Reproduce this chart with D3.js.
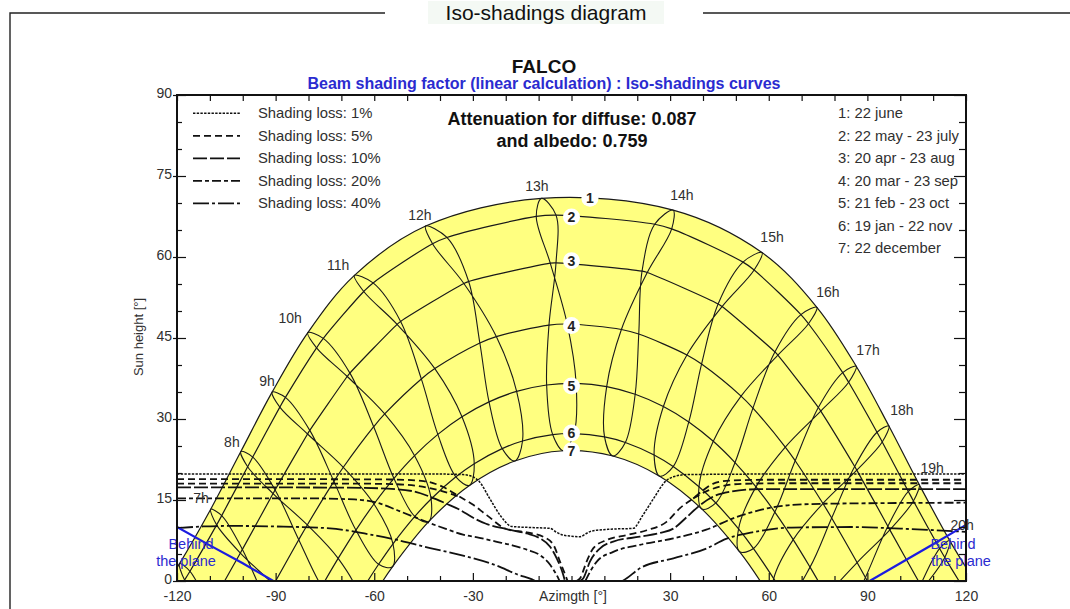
<!DOCTYPE html>
<html>
<head>
<meta charset="utf-8">
<script src="https://cdn.jsdelivr.net/npm/d3@7/dist/d3.min.js"></script>
<style>
  html,body{margin:0;padding:0;background:#fff;}
  svg{display:block;}
  text{font-family:"Liberation Sans",Arial,sans-serif;}
</style>
</head>
<body>
<svg id="chart" width="1070" height="609"></svg>
<script>
// ================= DATA (read / estimated from the picture) =================
// Sun position [azimuth, height] at legal hours 6h..20h for each date
const hours = [6,7,8,9,10,11,12,13,14,15,16,17,18,19,20];
const jun22 = [[-119.23,3.21],[-109.75,13.29],[-100.58,23.97],[-91.07,34.97],[-80.20,46.00],[-66.03,56.60],[-44.36,65.74],[-9.12,70.85],[30.92,68.68],[57.93,60.83],[74.64,50.69],[86.61,39.77],[96.55,28.71],[105.77,17.86],[115.05,7.48]];
const may22 = [[-116.05,1.80],[-106.40,12.11],[-96.96,22.95],[-87.02,34.00],[-75.50,44.93],[-60.35,55.20],[-37.90,63.62],[-4.71,67.75],[30.48,65.21],[55.55,57.58],[72.09,47.64],[84.31,36.80],[94.52,25.74],[104.01,14.82],[113.55,4.34]];
const jul23 = [[-117.69,0.18],[-107.94,10.39],[-98.51,21.16],[-88.72,32.20],[-77.55,43.18],[-63.19,53.61],[-42.27,62.46],[-10.72,67.51],[25.30,66.06],[52.17,59.05],[69.78,49.34],[82.50,38.60],[92.93,27.55],[102.47,16.58],[111.96,6.01]];
const apr20 = [[-110.23,-4.83],[-100.11,5.85],[-90.16,16.87],[-79.61,27.89],[-67.40,38.50],[-51.98,48.07],[-31.28,55.46],[-4.71,58.92],[23.05,57.13],[45.81,50.82],[62.77,41.82],[75.82,31.47],[86.78,20.53],[96.83,9.47],[106.82,-1.35]];
const aug23 = [[-110.87,-5.46],[-100.72,5.18],[-90.78,16.19],[-80.29,27.22],[-68.22,37.87],[-53.05,47.53],[-32.74,55.10],[-6.46,58.86],[21.46,57.39],[44.60,51.31],[61.86,42.42],[75.08,32.13],[86.14,21.21],[96.23,10.15],[106.19,-0.70]];
const mar20 = [[-103.52,-14.36],[-93.13,-3.42],[-82.97,7.64],[-72.27,18.45],[-60.17,28.57],[-45.68,37.42],[-27.88,44.07],[-6.85,47.40],[15.18,46.58],[35.11,41.86],[51.58,34.24],[65.03,24.81],[76.48,14.36],[86.87,3.42],[97.03,-7.64]];
const sep23 = [[-100.86,-11.66],[-90.59,-0.65],[-80.37,10.38],[-69.41,21.06],[-56.82,30.94],[-41.57,39.33],[-22.87,45.26],[-1.30,47.59],[20.46,45.74],[39.56,40.17],[55.19,32.01],[68.04,22.27],[79.14,11.66],[89.41,0.65],[99.63,-10.38]];
const feb21 = [[-96.14,-23.00],[-85.93,-11.94],[-75.98,-1.02],[-65.58,9.43],[-54.00,19.00],[-40.66,27.15],[-25.09,33.17],[-7.56,36.30],[10.70,36.00],[27.95,32.31],[43.13,25.87],[56.12,17.43],[67.44,7.67],[77.72,-2.89],[87.66,-13.86]];
const oct23 = [[-91.05,-17.59],[-81.07,-6.55],[-70.98,4.18],[-60.09,14.26],[-47.73,23.21],[-33.31,30.41],[-16.69,35.11],[1.41,36.59],[19.37,34.58],[35.68,29.45],[49.74,21.93],[61.85,12.77],[72.56,2.57],[82.59,-8.23],[92.62,-19.29]];
const jan19 = [[-87.69,-28.40],[-78.13,-17.43],[-68.66,-6.82],[-58.67,3.10],[-47.65,11.96],[-35.17,19.29],[-21.09,24.52],[-5.72,27.10],[10.05,26.68],[25.13,23.33],[38.78,17.45],[50.82,9.65],[61.51,0.45],[71.30,-9.69],[80.72,-20.43]];
const nov22 = [[-83.70,-23.87],[-74.26,-13.01],[-64.65,-2.65],[-54.30,6.89],[-42.71,15.19],[-29.58,21.73],[-14.90,25.93],[0.77,27.30],[16.38,25.65],[30.93,21.19],[43.91,14.45],[55.36,6.01],[65.62,-3.62],[75.18,-14.05],[84.64,-24.94]];
const dec22 = [[-82.91,-28.07],[-73.70,-17.24],[-64.40,-6.90],[-54.47,2.63],[-43.45,10.98],[-31.05,17.70],[-17.22,22.23],[-2.39,24.12],[12.59,23.14],[26.81,19.40],[39.68,13.32],[51.10,5.43],[61.34,-3.78],[70.79,-13.89],[79.96,-24.60]];

// order in which an hour line visits the dates (figure-8)
const loopOrder = [jun22, may22, apr20, mar20, feb21, jan19, dec22, nov22, oct23, sep23, aug23, jul23];
// dates lying on each numbered sun path
const curveMembers = [[jun22],[may22,jul23],[apr20,aug23],[mar20,sep23],[feb21,oct23],[jan19,nov22],[dec22]];
// azimuth where each sun path meets the horizon
const horizonAz = [122.59,117.88,105.53,90.0,75.03,61.98,57.41];

const curveNames = ["1","2","3","4","5","6","7"];
const curveLabelAz = [5.6,0,0,0,0,0,0];
const curveLabelH = [70.9,67.4,59.3,47.3,36.1,27.4,24.1];
const dateLegend = ["1: 22 june","2: 22 may - 23 july","3: 20 apr - 23 aug","4: 20 mar - 23 sep","5: 21 feb - 23 oct","6: 19 jan - 22 nov","7: 22 december"];

const hourLabels = ["7h","8h","9h","10h","11h","12h","13h","14h","15h","16h","17h","18h","19h","20h"];
const hourLabelAz = [-112.7,-103.3,-92.6,-85.6,-71.0,-46.1,-10.5,33.6,61.0,78.0,90.2,100.5,109.7,118.8];
const hourLabelH  = [15.4,25.7,37.0,48.7,58.5,67.8,73.1,71.5,63.7,53.5,42.8,31.7,20.9,10.4];

// iso-shading curves [azimuth, height]
const isoLevels = ["Shading loss: 1%","Shading loss: 5%","Shading loss: 10%","Shading loss: 20%","Shading loss: 40%"];
const iso1 = [[-120,19.8],[-60,19.8],[-40,19.8],[-33,19.7],[-30,19.3],[-28,18.4],[-25,15.4],[-21.5,12.0],[-18.2,10.1],[-12,9.9],[-6.5,9.75],[-4.5,9.0],[-2.5,8.5],[0,8.3],[2.6,8.2],[4.5,8.8],[6.1,9.25],[12,9.6],[18.8,9.75],[21.5,12.0],[25,15.3],[28.5,18.4],[31,19.3],[35,19.7],[60,19.8],[120,19.8]];
const iso5aL = [[-120,18.85],[-80,18.85],[-55,18.8],[-45,18.5],[-39,17.4],[-34,15.6],[-29.9,14.1],[-25.8,12.2],[-19.7,9.6],[-13.6,9.0],[-8.6,8.2],[-5.5,6.7],[-3.5,3.6],[-1.5,0.5],[-1.2,0]];
const iso5aR = [[1.5,0],[2.6,0.5],[4.6,3.6],[6.6,6.05],[10.7,7.6],[16.8,8.5],[22.9,9.4],[29,11.0],[33,13.5],[37,15.3],[40,16.8],[43,18.0],[48,18.6],[60,18.75],[120,18.75]];
const iso5bL = [[-120,18.05],[-70,18.05],[-55,17.95],[-47,17.6],[-41,16.9],[-37,16.2],[-34,15.6]];
const iso5bR = [[37,15.3],[41,16.6],[46,17.6],[52,18.0],[65,18.1],[120,18.1]];
const iso10L = [[-120,17.35],[-70,17.3],[-56,17.1],[-48,16.6],[-43,15.6],[-38,14.3],[-34,13.2],[-29.9,11.7],[-26,10.6],[-19.7,9.6],[-13.6,8.8],[-9.6,7.9],[-6.5,6.35],[-4.5,4.2],[-2.5,1.1],[-2.0,0]];
const iso10R = [[2.5,0],[3.6,0.5],[5.6,3.6],[8.7,6.05],[12.7,7.3],[20.8,8.2],[27,8.9],[31,9.7],[35,11.8],[39,14.0],[43,15.6],[48,16.5],[57,17.0],[80,17.0],[120,17.0]];
const iso20L = [[-120,15.3],[-80,15.3],[-66,15.1],[-58,14.3],[-53,13.1],[-48,11.9],[-43,10.7],[-38,9.6],[-33,8.6],[-28,8.0],[-23,7.3],[-18,6.6],[-13.6,5.8],[-9.6,4.8],[-6.5,3.0],[-4,0.5],[-3.6,0]];
const iso20R = [[4.2,0],[4.6,0.5],[7.7,3.6],[12.7,5.4],[20.8,6.7],[31,7.9],[41,9.5],[50,11.8],[60,13.5],[70,14.2],[90,14.4],[120,14.5]];
const iso40L = [[-120,9.8],[-112,10.1],[-104,10.2],[-90,10.1],[-73.5,9.75],[-63,8.8],[-53,7.6],[-43,6.1],[-33,4.7],[-23,2.9],[-16,1.1],[-12,0.3],[-11,0]];
const iso40R = [[15.5,0],[16.8,0.5],[20.8,2.35],[31,4.2],[41,6.0],[47,7.8],[55,9.0],[67,9.9],[85,10.0],[100,9.7],[120,9.1]];
const isoGroups = [[iso1],[iso5aL,iso5aR,iso5bL,iso5bR],[iso10L,iso10R],[iso20L,iso20R],[iso40L,iso40R]];

// "behind the plane" limits
const behindLeft  = [[-120,10.0],[-110,6.6],[-100,3.3],[-90.7,0]];
const behindRight = [[90.7,0],[100,3.3],[110,6.8],[120,10.4]];

// axes
const xTickLabels = [-120,-90,-60,-30,30,60,90,120];
const xMinorTicks = [-110,-100,-80,-70,-50,-40,-20,-10,0,10,20,40,50,70,80,100,110];
const yTickLabels = [0,15,30,45,60,75,90];
const yMinorTicks = [5,10,20,25,35,40,50,55,65,70,80,85];

// ================= STYLES =================
const isoDash = ["2.4,1.3","7,4","14,3","9,3,4,3","16,3,3,3"];
const isoWidth = [1.5,1.8,1.8,1.8,1.8];
const BLUE = "#2b2bd0";
const TXT = "#303030";

// ================= DRAWING =================
const svg = d3.select("#chart");
const x = d3.scaleLinear().domain([-120,120]).range([177,966]);
const y = d3.scaleLinear().domain([0,90]).range([581,95]);

svg.append("rect").attr("width",1070).attr("height",609).attr("fill","#fff");

// outer frame (fieldset style)
svg.append("path").attr("d","M10,609 V13 H385 M703,13 H1070")
  .attr("fill","none").attr("stroke","#222").attr("stroke-width",1.4);
svg.append("rect").attr("x",428).attr("y",1).attr("width",236).attr("height",23).attr("fill","#f4f9f4");
svg.append("text").attr("x",546).attr("y",20).attr("text-anchor","middle")
  .attr("font-size",21).attr("fill","#111").text("Iso-shadings diagram");

svg.append("text").attr("x",544).attr("y",73).attr("text-anchor","middle")
  .attr("font-size",19).attr("font-weight","bold").attr("fill","#111").text("FALCO");
svg.append("text").attr("x",544).attr("y",89).attr("text-anchor","middle")
  .attr("font-size",16).attr("font-weight","bold").attr("fill",BLUE)
  .text("Beam shading factor (linear calculation) : Iso-shadings curves");

// clip
svg.append("defs").append("clipPath").attr("id","plotclip")
  .append("rect").attr("x",x(-120)).attr("y",y(90)).attr("width",x(120)-x(-120)).attr("height",y(0)-y(90));

const lineOpen = d3.line().x(d=>x(d[0])).y(d=>y(d[1])).curve(d3.curveCatmullRom.alpha(0.5));
const lineLoop = d3.line().x(d=>x(d[0])).y(d=>y(d[1])).curve(d3.curveCatmullRomClosed.alpha(0.5));
const lineIso  = d3.line().x(d=>x(d[0])).y(d=>y(d[1])).curve(d3.curveMonotoneX);
const lineStraight = d3.line().x(d=>x(d[0])).y(d=>y(d[1]));

function datePath(i){
  const pts = [];
  curveMembers[i].forEach(arr => arr.forEach(p => { if (p[1] >= 0) pts.push(p); }));
  pts.push([-horizonAz[i],0],[horizonAz[i],0]);
  return d3.sort(pts, p => p[0]);
}
const datePaths = curveMembers.map((_,i)=>datePath(i));

const plot = svg.append("g").attr("clip-path","url(#plotclip)");

// yellow band between path 1 and path 7
const c1 = datePaths[0], c7 = datePaths[6].slice().reverse();
plot.append("path")
  .attr("d", lineOpen(c1) + lineOpen(c7).replace(/^M/,"L") + "Z")
  .attr("fill","#ffff80").attr("stroke","none");

// behind the plane text (under the lines)
const bt = svg.append("g").attr("font-size",14.5).attr("fill",BLUE).attr("text-anchor","middle");
bt.append("text").attr("x",191).attr("y",549).text("Behind");
bt.append("text").attr("x",186).attr("y",566).text("the plane");
bt.append("text").attr("x",953).attr("y",549).text("Behind");
bt.append("text").attr("x",961).attr("y",566).text("the plane");

// hour lines
hours.forEach((h,j)=>{
  plot.append("path").attr("d", lineLoop(loopOrder.map(arr=>arr[j])))
    .attr("fill","none").attr("stroke","#1a1a1a").attr("stroke-width",1.1);
});
// date curves
datePaths.forEach(pts=>{
  plot.append("path").attr("d", lineOpen(pts))
    .attr("fill","none").attr("stroke","#1a1a1a").attr("stroke-width",1.2);
});

// iso-shading curves
isoGroups.forEach((grp,i)=>{
  grp.forEach(pts=>{
    plot.append("path").attr("d", lineIso(pts))
      .attr("fill","none").attr("stroke","#111").attr("stroke-width",isoWidth[i])
      .attr("stroke-dasharray",isoDash[i]);
  });
});

// behind the plane lines
[behindLeft,behindRight].forEach(pts=>{
  plot.append("path").attr("d", lineStraight(pts))
    .attr("fill","none").attr("stroke","#1c1ce0").attr("stroke-width",2.2);
});

// hour labels
const hl = svg.append("g").attr("font-size",14).attr("fill",TXT).attr("text-anchor","middle");
hourLabels.forEach((t,i)=>{
  hl.append("text").attr("x",x(hourLabelAz[i])).attr("y",y(hourLabelH[i])+5).text(t);
});

// numbered circles
curveNames.forEach((t,i)=>{
  const cx = x(curveLabelAz[i]), cy = y(curveLabelH[i]);
  svg.append("circle").attr("cx",cx).attr("cy",cy).attr("r",8.5).attr("fill","#fff");
  svg.append("text").attr("x",cx).attr("y",cy+5).attr("text-anchor","middle")
    .attr("font-size",14).attr("font-weight","bold").attr("fill","#222").text(t);
});

// legend: iso curves
const lg = svg.append("g");
isoLevels.forEach((t,i)=>{
  const yy = 113.3 + i*22.5;
  lg.append("line").attr("x1",193).attr("x2",240).attr("y1",yy).attr("y2",yy)
    .attr("stroke","#111").attr("stroke-width",isoWidth[i]).attr("stroke-dasharray",isoDash[i]);
  lg.append("text").attr("x",258).attr("y",yy+5).attr("font-size",14.8).attr("fill",TXT).text(t);
});
// legend: dates
dateLegend.forEach((t,i)=>{
  lg.append("text").attr("x",838).attr("y",113.3 + i*22.5 + 5).attr("font-size",14.8).attr("fill",TXT).text(t);
});

// attenuation text
svg.append("text").attr("x",572).attr("y",125).attr("text-anchor","middle")
  .attr("font-size",18).attr("font-weight","bold").attr("fill","#111").text("Attenuation for diffuse: 0.087");
svg.append("text").attr("x",572).attr("y",147).attr("text-anchor","middle")
  .attr("font-size",18).attr("font-weight","bold").attr("fill","#111").text("and albedo: 0.759");

// axes
function clean(g){ g.select(".domain").remove(); g.selectAll("line").attr("stroke","#111").attr("stroke-width",1.2); g.selectAll("text").attr("font-family","Liberation Sans, Arial, sans-serif").attr("font-size",14).attr("fill",TXT); }
const fmt = d => String(d);
svg.append("g").attr("transform",`translate(0,${y(0)})`).call(d3.axisTop(x).tickValues(xMinorTicks).tickSize(5).tickFormat("")).call(clean);
svg.append("g").attr("transform",`translate(0,${y(0)})`).call(d3.axisTop(x).tickValues(xTickLabels).tickSize(8).tickFormat("")).call(clean);
svg.append("g").attr("transform",`translate(0,${y(0)})`).call(d3.axisBottom(x).tickValues(xTickLabels).tickSize(0).tickPadding(10).tickFormat(fmt)).call(clean);
svg.append("g").attr("transform",`translate(0,${y(90)})`).call(d3.axisBottom(x).tickValues(xMinorTicks.concat(xTickLabels)).tickSize(6).tickFormat("")).call(clean);

svg.append("g").attr("transform",`translate(${x(-120)},0)`).call(d3.axisRight(y).tickValues(yMinorTicks).tickSize(5).tickFormat("")).call(clean);
svg.append("g").attr("transform",`translate(${x(-120)-4},0)`).call(d3.axisRight(y).tickValues(yTickLabels).tickSize(13).tickFormat("")).call(clean);
const yLab = svg.append("g").attr("transform",`translate(${x(-120)-4},0)`).call(d3.axisLeft(y).tickValues(yTickLabels).tickSize(0).tickPadding(1).tickFormat(fmt)).call(clean);
yLab.selectAll("text").attr("dy","0.2em");
svg.append("g").attr("transform",`translate(${x(120)},0)`).call(d3.axisLeft(y).tickValues(yMinorTicks).tickSize(7).tickFormat("")).call(clean);
svg.append("g").attr("transform",`translate(${x(120)},0)`).call(d3.axisLeft(y).tickValues(yTickLabels).tickSize(12).tickFormat("")).call(clean);

// plot border
svg.append("rect").attr("x",x(-120)).attr("y",y(90)).attr("width",x(120)-x(-120)).attr("height",y(0)-y(90))
  .attr("fill","none").attr("stroke","#111").attr("stroke-width",2);

// axis titles
svg.append("text").attr("x",573).attr("y",601).attr("text-anchor","middle")
  .attr("font-size",14).attr("fill",TXT).text("Azimgth [°]");
svg.append("text").attr("transform","translate(143,337) rotate(-90)").attr("text-anchor","middle")
  .attr("font-family","Liberation Serif, Times New Roman, serif").attr("font-size",13).attr("fill",TXT)
  .text("Sun height [°]");
</script>
</body>
</html>
